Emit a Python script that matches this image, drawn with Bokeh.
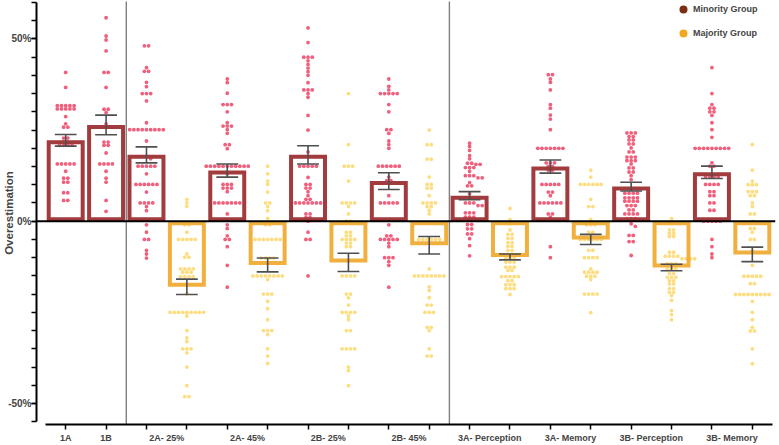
from bokeh.plotting import figure
from bokeh.models import FixedTicker, Span, Legend, LegendItem
from bokeh.embed import file_html
from bokeh.resources import INLINE

# ---------------- data ----------------
categories = ["1A", "1B", "2A- 25%", "2A- 45%", "2B- 25%", "2B- 45%",
              "3A- Perception", "3A- Memory", "3B- Perception", "3B- Memory"]
minority_mean = [22.2, 26.4, 18.2, 13.9, 18.2, 11.0, 7.0, 15.0, 9.5, 13.4]
minority_sem = [1.6, 2.7, 2.2, 1.8, 2.5, 2.3, 1.1, 1.8, 1.2, 1.7]
majority_mean = [None, None, -18.0, -12.0, -11.3, -6.6, -9.8, -5.0, -12.7, -9.1]
majority_sem = [None, None, 2.1, 1.9, 2.5, 2.4, 0.8, 1.4, 0.9, 2.0]

# individual observations as (value, count)
dots_min_1A = [(40.8, 1), (36.7, 1), (31.7, 5), (30.8, 5), (28.7, 1), (26.7, 1), (25.8, 2),
               (22.8, 2), (21.7, 2), (20.8, 4), (15.7, 5), (13.7, 1), (11.8, 2), (10.7, 2),
               (7.8, 2), (5.7, 2)]
dots_min_1B = [(55.8, 1), (50.8, 1), (49.7, 1), (46.7, 1), (40.8, 2), (36.7, 1), (30.7, 2),
               (29.8, 1), (26.7, 1), (25.8, 1), (21.7, 2), (20.8, 2), (18.7, 1), (15.7, 4),
               (13.7, 1), (11.8, 1), (10.7, 1), (5.7, 1), (2.7, 1)]
dots_min_2A25 = [(48.1, 2), (42.1, 1), (41.1, 2), (38.1, 1), (36.9, 1), (35.0, 3), (33.0, 1),
                 (27.0, 1), (25.1, 9), (22.0, 1), (17.8, 1), (17.1, 1), (15.1, 5), (13.0, 1),
                 (10.1, 6), (8.0, 1), (5.0, 4), (4.0, 1), (2.9, 1), (-1.0, 1), (-3.0, 1),
                 (-5.0, 2), (-8.0, 1), (-9.0, 1), (-10.1, 1)]
dots_maj_2A25 = [(6.0, 1), (5.0, 1), (4.0, 1), (-1.0, 2), (-3.0, 1), (-5.0, 5), (-9.0, 1),
                 (-9.9, 2), (-13.1, 4), (-14.0, 3), (-15.2, 4), (-19.9, 1), (-25.0, 9),
                 (-26.0, 1), (-30.0, 1), (-32.0, 1), (-33.0, 1), (-35.0, 3), (-36.1, 1),
                 (-40.0, 1), (-45.1, 1), (-48.1, 2)]
dots_min_2A45 = [(39.0, 1), (38.0, 1), (35.1, 1), (32.0, 3), (30.0, 1), (27.0, 1), (26.1, 3),
                 (25.1, 1), (24.1, 1), (21.0, 2), (19.9, 1), (15.1, 11), (13.0, 1), (10.1, 3),
                 (9.1, 3), (8.1, 1), (5.0, 7), (2.0, 1), (-1.0, 1), (-2.0, 1), (-4.0, 1),
                 (-5.0, 2), (-7.0, 1), (-12.1, 1), (-18.1, 1)]
dots_maj_2A45 = [(15.1, 1), (13.0, 1), (11.0, 1), (10.1, 1), (8.0, 1), (5.0, 2), (4.0, 1),
                 (2.9, 1), (0.8, 1), (-1.0, 2), (-5.0, 7), (-10.1, 4), (-15.0, 8), (-16.0, 1),
                 (-20.0, 3), (-22.0, 1), (-24.0, 1), (-27.0, 1), (-30.0, 3), (-31.1, 1),
                 (-35.0, 1), (-37.0, 1), (-39.0, 1)]
dots_min_2B25 = [(53.0, 1), (49.0, 1), (45.0, 3), (44.0, 1), (43.0, 1), (42.0, 1), (41.0, 1),
                 (40.0, 1), (38.0, 1), (36.0, 3), (35.0, 1), (34.0, 1), (29.0, 1), (25.0, 1),
                 (19.0, 1), (15.1, 5), (12.0, 1), (10.1, 2), (9.1, 2), (8.1, 1), (7.0, 1),
                 (6.0, 2), (5.0, 9), (2.0, 2), (1.0, 2), (0.0, 1), (-3.0, 1), (-5.0, 2),
                 (-15.0, 1)]
dots_maj_2B25 = [(35.0, 1), (21.0, 1), (15.1, 3), (11.0, 1), (5.0, 4), (4.0, 1), (2.0, 1),
                 (0.0, 2), (-3.0, 2), (-4.0, 2), (-5.0, 4), (-6.0, 2), (-7.0, 2), (-15.0, 4),
                 (-20.0, 2), (-21.0, 1), (-23.0, 1), (-25.0, 4), (-26.0, 1), (-27.0, 1),
                 (-30.0, 2), (-35.0, 4), (-40.0, 1), (-41.0, 1), (-45.1, 1)]
dots_min_2B45 = [(39.0, 1), (37.0, 1), (36.0, 1), (35.0, 5), (32.0, 1), (30.0, 1), (25.1, 2),
                 (24.1, 1), (22.0, 1), (21.0, 1), (20.0, 1), (15.1, 6), (12.1, 1), (11.1, 2),
                 (7.0, 1), (5.0, 5), (-1.0, 1), (-4.0, 2), (-5.0, 5), (-6.0, 1), (-7.0, 1),
                 (-10.0, 3), (-11.1, 1), (-12.1, 1), (-18.1, 1)]
dots_maj_2B45 = [(25.0, 1), (21.0, 2), (17.0, 2), (12.1, 1), (10.1, 2), (9.1, 2), (7.0, 1),
                 (5.0, 4), (4.0, 2), (3.0, 1), (2.0, 1), (-5.0, 6), (-13.1, 1), (-15.0, 8),
                 (-18.0, 1), (-19.0, 1), (-21.0, 1), (-23.0, 2), (-25.0, 3), (-29.1, 2),
                 (-30.0, 1), (-35.0, 1), (-37.0, 2)]
dots_min_3AP = [(21.4, 1), (20.5, 1), (19.4, 1), (18.0, 1), (17.1, 1), (15.9, 2), (15.6, 2),
                (14.7, 3), (13.7, 1), (12.5, 3), (11.9, 2), (10.6, 1), (9.7, 2), (7.5, 1),
                (5.0, 3), (4.3, 2), (2.3, 3), (1.1, 3), (-0.9, 2), (-2.1, 2), (-3.5, 2),
                (-4.8, 1), (-6.7, 1), (-9.5, 1)]
dots_maj_3AP = [(3.5, 1), (0.4, 1), (-0.7, 1), (-2.4, 1), (-3.6, 2), (-4.7, 2), (-5.9, 2),
                (-6.9, 2), (-8.0, 2), (-9.1, 2), (-10.0, 3), (-11.2, 3), (-12.6, 3), (-13.5, 2),
                (-15.2, 5), (-16.3, 2), (-17.4, 3), (-18.5, 3), (-20.1, 1)]
dots_min_3AM = [(40.2, 2), (39.0, 1), (38.1, 1), (36.0, 1), (32.0, 1), (31.0, 1), (29.1, 1),
                (28.0, 1), (25.1, 1), (20.0, 7), (16.0, 3), (15.0, 2), (14.0, 2), (10.1, 5),
                (8.0, 2), (7.0, 1), (5.0, 6), (2.0, 2), (1.1, 1), (-7.0, 1), (-10.0, 1)]
dots_maj_3AM = [(14.0, 1), (12.1, 1), (10.1, 6), (6.0, 1), (4.0, 2), (0.5, 1), (-1.0, 3),
                (-3.0, 2), (-5.0, 6), (-8.0, 2), (-10.0, 4), (-13.1, 1), (-14.0, 4), (-15.1, 3),
                (-16.0, 1), (-20.0, 4), (-25.1, 1)]
dots_min_3BP = [(24.2, 3), (23.2, 2), (22.3, 2), (21.2, 2), (20.1, 1), (19.0, 2), (17.6, 3),
                (16.6, 3), (15.7, 1), (14.6, 2), (13.5, 2), (12.5, 1), (11.4, 1), (7.7, 4),
                (6.4, 4), (5.5, 4), (4.3, 3), (3.1, 2), (2.0, 4), (0.7, 3), (-0.7, 1),
                (-1.4, 1), (-3.9, 2), (-5.6, 2), (-9.4, 1)]
dots_maj_3BP = [(0.7, 1), (-0.7, 1), (-2.4, 2), (-3.3, 2), (-4.2, 2), (-8.5, 2), (-9.6, 4),
                (-10.3, 4), (-11.7, 3), (-13.1, 3), (-14.4, 2), (-15.4, 3), (-16.3, 2),
                (-17.2, 2), (-18.5, 2), (-19.5, 2), (-20.4, 1), (-21.7, 1), (-24.5, 1),
                (-25.6, 1), (-27.0, 1)]
dots_min_3BM = [(42.1, 1), (35.0, 1), (32.0, 1), (31.0, 2), (30.0, 2), (29.0, 1), (27.0, 1),
                (25.1, 1), (23.0, 1), (20.0, 9), (16.0, 1), (15.1, 2), (12.1, 4), (10.1, 4),
                (8.1, 2), (7.0, 2), (5.0, 2), (3.0, 2), (0.0, 5), (-5.0, 1), (-7.0, 1),
                (-9.0, 1), (-10.0, 1)]
dots_maj_3BM = [(21.0, 1), (14.0, 1), (11.0, 1), (10.0, 3), (8.1, 3), (7.0, 2), (5.0, 1),
                (4.0, 1), (2.0, 2), (0.0, 1), (-2.0, 2), (-3.0, 1), (-5.0, 2), (-8.0, 1),
                (-12.1, 1), (-15.1, 5), (-17.1, 2), (-20.1, 9), (-22.0, 1), (-25.0, 1),
                (-27.0, 1), (-29.1, 1), (-30.1, 2), (-35.0, 1), (-39.1, 1)]

dots_minority = [dots_min_1A, dots_min_1B, dots_min_2A25, dots_min_2A45, dots_min_2B25,
                 dots_min_2B45, dots_min_3AP, dots_min_3AM, dots_min_3BP, dots_min_3BM]
dots_majority = [None, None, dots_maj_2A25, dots_maj_2A45, dots_maj_2B25, dots_maj_2B45,
                 dots_maj_3AP, dots_maj_3AM, dots_maj_3BP, dots_maj_3BM]

y_ticks_major = [-50, 0, 50]
y_tick_step = 5
y_axis_bounds = (-55, 60)

# ---------------- style ----------------
MIN_LINE = "#A13B3D"
MAJ_LINE = "#F1B03E"
MIN_DOT = "#F0607D"
MAJ_DOT = "#FDDD80"
LEG_MIN = "#7A2E12"
LEG_MAJ = "#F0A820"
ERR = "#4F4F4F"
FONT = "Liberation Sans"

ML, MR, MT, MB = 36, 4, 1, 21
FW, FH = 739, 423
x_range = (-0.723, 17.574)
y_range = (-55.76, 60.26)
ppx = FW / (x_range[1] - x_range[0])   # px per x unit
ppy = FH / (y_range[1] - y_range[0])   # px per %

# ---------------- layout of bars ----------------
bars = []        # (x, mean, sem, group, dots)
label_pos = []
pos = 0
cat_first_x = []
for i, cat in enumerate(categories):
    cat_first_x.append(pos)
    bars.append((pos, minority_mean[i], minority_sem[i], "min", dots_minority[i]))
    if majority_mean[i] is None:
        label_pos.append(pos)
        pos += 1
    else:
        bars.append((pos + 1, majority_mean[i], majority_sem[i], "maj", dots_majority[i]))
        label_pos.append(pos + 0.5)
        pos += 2
n_bars = pos
separators = [cat_first_x[i] - 0.5 for i in range(1, len(categories))
              if categories[i][0] != categories[i - 1][0]]


def swarm(x0, pairs, hx, hy):
    placed = []
    order = sorted(pairs, key=lambda p: (-p[1], -p[0]))
    for v, n in order:
        offs = [(k - (n - 1) / 2.0) * hx for k in range(n)]
        shifts = [0.0]
        for s in range(1, 40):
            shifts += [s * hx / 2, -s * hx / 2]
        for c in shifts:
            ok = True
            for o in offs:
                for (px, py) in placed:
                    if ((c + o - px) / hx) ** 2 + ((v - py) / hy) ** 2 < 0.95:
                        ok = False
                        break
                if not ok:
                    break
            if ok:
                break
        for o in offs:
            placed.append((c + o, v))
    return [x0 + p[0] for p in placed], [p[1] for p in placed]


p = figure(frame_width=FW, frame_height=FH, x_range=x_range, y_range=y_range,
           output_backend="svg", toolbar_location=None,
           min_border_left=ML, min_border_right=MR, min_border_top=MT, min_border_bottom=MB)
p.xgrid.visible = False
p.ygrid.visible = False
p.outline_line_color = None
p.background_fill_color = "white"

bw = 0.94
ix = 2.0 / ppx
iy = 2.0 / ppy
hx = 4.2 / ppx
hy = 0.85

for grp in ("min", "maj"):
    sel = [b for b in bars if b[3] == grp]
    p.vbar(x=[b[0] for b in sel], top=[b[1] for b in sel], bottom=0, width=bw,
           fill_color="white", line_color=None)

# dots
for b in bars:
    dx, dy = swarm(b[0], b[4], hx, hy)
    p.scatter(x=dx, y=dy, size=3.8, marker="circle",
              fill_color=MIN_DOT if b[3] == "min" else MAJ_DOT, line_color=None)

# bar outlines (drawn inside the bar rectangle)
for grp, line_c in (("min", MIN_LINE), ("maj", MAJ_LINE)):
    sel = [b for b in bars if b[3] == grp]
    xs = [b[0] for b in sel]
    sgn = [1 if b[1] >= 0 else -1 for b in sel]
    tops = [b[1] - s * iy for b, s in zip(sel, sgn)]
    bots = [s * iy for s in sgn]
    p.vbar(x=xs, top=tops, bottom=bots, width=bw - 2 * ix, fill_color=None,
           line_color=line_c, line_width=4, line_join="miter")

# zero line
p.add_layout(Span(location=0, dimension="width", line_color="black", line_width=2))

# separators
for s in separators:
    p.add_layout(Span(location=s, dimension="height", line_color="black",
                      line_width=1.4, line_dash="1 1"))

# error bars
ex = [b[0] for b in bars]
elo = [b[1] - b[2] for b in bars]
ehi = [b[1] + b[2] for b in bars]
cap = 0.27
p.segment(x0=ex, y0=elo, x1=ex, y1=ehi, line_color=ERR, line_width=1.6)
p.segment(x0=[x - cap for x in ex], y0=elo, x1=[x + cap for x in ex], y1=elo,
          line_color=ERR, line_width=1.6)
p.segment(x0=[x - cap for x in ex], y0=ehi, x1=[x + cap for x in ex], y1=ehi,
          line_color=ERR, line_width=1.6)

# axes
yax = p.yaxis[0]
yax.ticker = FixedTicker(ticks=y_ticks_major,
                         minor_ticks=list(range(y_axis_bounds[0], y_axis_bounds[1] + 1, y_tick_step)))
yax.major_label_overrides = {t: f"{t}%" for t in y_ticks_major}
yax.bounds = y_axis_bounds
yax.axis_label = "Overestimation"
yax.axis_label_text_font = FONT
yax.axis_label_text_font_style = "bold"
yax.axis_label_text_font_size = "11.5px"
yax.axis_label_standoff = -10
yax.major_label_text_font = FONT
yax.major_label_text_font_style = "bold"
yax.major_label_text_font_size = "10px"
yax.major_label_standoff = 0
yax.axis_line_width = 2
yax.axis_line_color = "black"
yax.major_tick_out = 5
yax.major_tick_in = 0
yax.minor_tick_out = 5
yax.minor_tick_in = 0
yax.major_tick_line_width = 1.5
yax.minor_tick_line_width = 1.5

xax = p.xaxis[0]
xax.ticker = FixedTicker(ticks=label_pos, minor_ticks=list(range(n_bars)))
xax.major_label_overrides = {lp: c for lp, c in zip(label_pos, categories)}
xax.bounds = (-0.5, n_bars - 0.5)
xax.major_label_text_font = FONT
xax.major_label_text_font_style = "bold"
xax.major_label_text_font_size = "9px"
xax.major_label_standoff = 3
xax.major_tick_out = 0
xax.major_tick_in = 0
xax.minor_tick_out = 5
xax.minor_tick_in = 0
xax.minor_tick_line_width = 1.5
xax.axis_line_width = 2
xax.axis_line_color = "black"

# legend (glyph-only renderers with no visible points)
nan = float("nan")
r_min = p.scatter(x=[nan], y=[nan], marker="circle", fill_color=LEG_MIN, line_color=None)
r_maj = p.scatter(x=[nan], y=[nan], marker="circle", fill_color=LEG_MAJ, line_color=None)
legend = Legend(items=[LegendItem(label="Minority Group", renderers=[r_min]),
                       LegendItem(label="Majority Group", renderers=[r_maj])],
                location=(637, FH - 42), orientation="vertical",
                glyph_width=20, glyph_height=20, label_height=20, spacing=4,
                padding=0, margin=0, label_standoff=0,
                border_line_color=None, background_fill_alpha=0,
                label_text_font=FONT, label_text_font_style="bold",
                label_text_font_size="9px")
p.add_layout(legend)

open("out.html", "w").write(file_html(p, INLINE))
